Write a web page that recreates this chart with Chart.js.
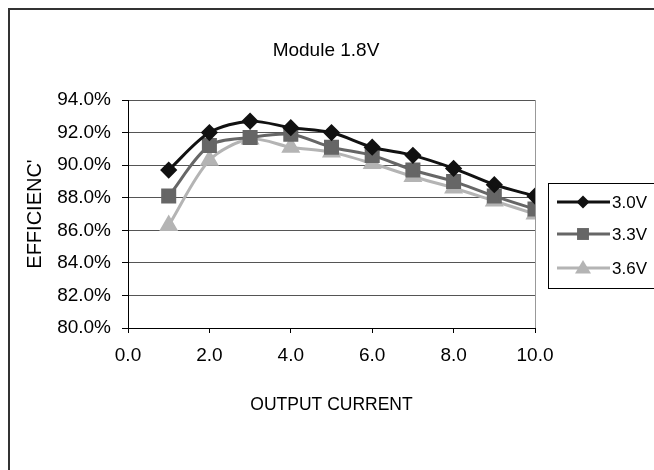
<!DOCTYPE html>
<html>
<head>
<meta charset="utf-8">
<script src="https://cdn.jsdelivr.net/npm/chart.js@4"></script>
<style>
  html, body { margin: 0; padding: 0; background: #fff; }
  #wrap { width: 654px; height: 470px; position: relative; }
</style>
</head>
<body>
<div id="wrap"><canvas id="effChart"></canvas></div>
<script>
// 输出电流 (A)
const currents = [1, 2, 3, 4, 5, 6, 7, 8, 9, 10];
// 各输入电压下的效率 (%)
const eff30 = [89.7, 92.0, 92.7, 92.3, 92.0, 91.1, 90.6, 89.8, 88.8, 88.1];
const eff33 = [88.1, 91.2, 91.7, 91.9, 91.1, 90.6, 89.7, 89.0, 88.1, 87.3];
const eff36 = [86.3, 90.3, 91.6, 91.1, 90.8, 90.1, 89.3, 88.6, 87.8, 87.0];
const seriesNames = ['3.0V', '3.3V', '3.6V'];
const yTicks = [80, 82, 84, 86, 88, 90, 92, 94];
const xTicks = [0, 2, 4, 6, 8, 10];

const FONT = 'Liberation Sans, Arial, sans-serif';

function pts(ys) {
    return currents.map((x, i) => ({ x: x, y: ys[i] }));
}

// 外框、标题和图例
const framePlugin = {
    id: 'frame',
    afterDraw(chart) {
        const c = chart.ctx;
        c.save();
        c.strokeStyle = '#333';
        c.lineWidth = 2;
        c.beginPath();
        c.moveTo(9, 470);
        c.lineTo(9, 9);
        c.lineTo(654, 9);
        c.stroke();

        c.fillStyle = '#000';
        c.font = '19px ' + FONT;
        c.textAlign = 'center';
        c.textBaseline = 'middle';
        c.fillText('Module 1.8V', 326, 51);

        // 图例框
        c.lineWidth = 1;
        c.strokeStyle = '#000';
        c.strokeRect(548.5, 183.5, 120, 105);
        const rows = [202, 234, 268];
        chart.data.datasets.forEach((ds, i) => {
            const y = rows[i];
            c.strokeStyle = ds.borderColor;
            c.lineWidth = 3;
            c.beginPath();
            c.moveTo(557, y);
            c.lineTo(610, y);
            c.stroke();
            c.fillStyle = ds.pointBackgroundColor;
            c.beginPath();
            const r = ds.pointRadius;
            if (ds.pointStyle === 'rectRot') {
                c.moveTo(583, y - r); c.lineTo(583 + r, y); c.lineTo(583, y + r); c.lineTo(583 - r, y);
            } else if (ds.pointStyle === 'rect') {
                c.rect(583 - r * 0.7, y - r * 0.7, r * 1.4, r * 1.4);
            } else {
                c.moveTo(583, y - r); c.lineTo(583 + r, y + r * 0.7); c.lineTo(583 - r, y + r * 0.7);
            }
            c.closePath();
            c.fill();
            c.fillStyle = '#000';
            c.font = '17px ' + FONT;
            c.textBaseline = 'middle';
            c.textAlign = 'left';
            c.fillText(ds.label, 612, y + 1);
        });
        c.restore();
    }
};

new Chart(document.getElementById('effChart'), {
    type: 'line',
    data: {
        datasets: [{
            label: seriesNames[0],
            data: pts(eff30),
            borderColor: '#111',
            pointBackgroundColor: '#111',
            pointBorderColor: '#111',
            pointStyle: 'rectRot',
            pointRadius: 6.5,
            borderWidth: 3,
            tension: 0.3
        }, {
            label: seriesNames[1],
            data: pts(eff33),
            borderColor: '#666',
            pointBackgroundColor: '#666',
            pointBorderColor: '#666',
            pointStyle: 'rect',
            pointRadius: 8.5,
            borderWidth: 3,
            tension: 0.3
        }, {
            label: seriesNames[2],
            data: pts(eff36),
            borderColor: '#b4b4b4',
            pointBackgroundColor: '#b4b4b4',
            pointBorderColor: '#b4b4b4',
            pointStyle: 'triangle',
            pointRadius: 8,
            borderWidth: 3,
            tension: 0.3
        }]
    },
    options: {
        responsive: true,
        maintainAspectRatio: false,
        animation: false,
        layout: {
            padding: { left: 8, right: 119, top: 100, bottom: 0 }
        },
        plugins: {
            legend: { display: false },
            tooltip: { enabled: false },
            title: { display: false }
        },
        scales: {
            x: {
                type: 'linear',
                min: 0,
                max: 10,
                afterFit(scale) { scale.height = 142; },
                afterBuildTicks(scale) { scale.ticks = xTicks.map(v => ({ value: v })); },
                ticks: {
                    color: '#000',
                    font: { family: FONT, size: 19 },
                    padding: 11,
                    callback: v => Number(v).toFixed(1)
                },
                grid: {
                    drawOnChartArea: true,
                    color: ctx => ctx.tick && ctx.tick.value === 10 ? '#999' : 'rgba(0,0,0,0)',
                    tickColor: '#000',
                    tickLength: 5
                },
                border: { color: '#000', width: 1 },
                title: {
                    display: true,
                    text: 'OUTPUT CURRENT',
                    color: '#000',
                    font: { family: FONT, size: 17.5 },
                    padding: { top: 0, bottom: 54 }
                }
            },
            y: {
                min: 80,
                max: 94,
                afterFit(scale) { scale.width = 120; },
                afterBuildTicks(scale) { scale.ticks = yTicks.map(v => ({ value: v })); },
                ticks: {
                    color: '#000',
                    font: { family: FONT, size: 19 },
                    padding: 11,
                    callback: v => Number(v).toFixed(1) + '%'
                },
                grid: {
                    color: '#555',
                    tickColor: '#000',
                    tickLength: 6
                },
                border: { color: '#000', width: 1 },
                title: {
                    display: true,
                    text: "EFFICIENC'",
                    color: '#000',
                    font: { family: FONT, size: 20 },
                    padding: { top: 15, bottom: 0 }
                }
            }
        }
    },
    plugins: [framePlugin]
});
</script>
</body>
</html>
